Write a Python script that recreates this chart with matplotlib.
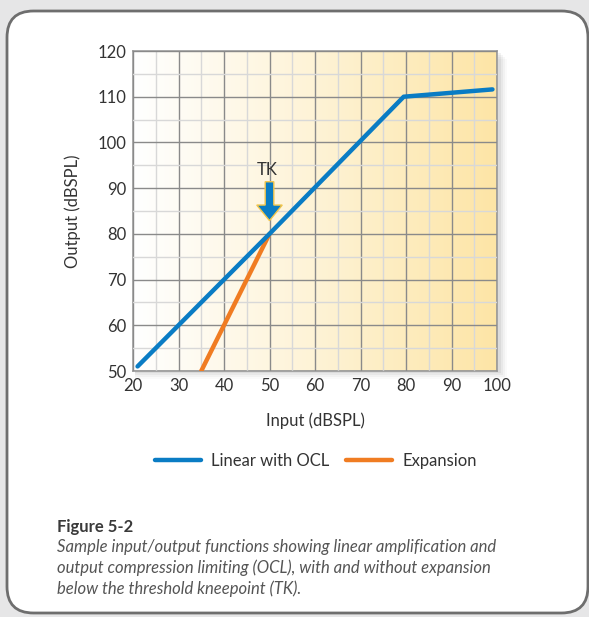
import numpy as np
import matplotlib
matplotlib.use('Agg')
import matplotlib.pyplot as plt
from matplotlib.colors import LinearSegmentedColormap
from matplotlib.patches import FancyBboxPatch, FancyArrow, Rectangle
from matplotlib.lines import Line2D

plt.rcParams['font.family'] = ['Lato', 'DejaVu Sans']

# Input/output functions (dB SPL)
linear_in = [21, 50, 79.5, 99]
linear_out = [51, 80, 110, 111.6]
expansion_in = [35, 50]
expansion_out = [50, 80]
tk_in, tk_out = 50, 80

x_ticks = [20, 30, 40, 50, 60, 70, 80, 90, 100]
y_ticks = [50, 60, 70, 80, 90, 100, 110, 120]

blue = '#0a7cc4'
orange = '#f07c22'
text_col = '#333333'
fs = 12

fig = plt.figure(figsize=(5.89, 6.17), dpi=100)
fig.patch.set_facecolor('#e6e6e7')

# rounded white panel behind everything
panel = FancyBboxPatch((7 / 589, 4 / 617), 581 / 589, 602 / 617,
                       boxstyle='round,pad=0,rounding_size=0.045',
                       transform=fig.transFigure, facecolor='white',
                       edgecolor='#6e6e6e', linewidth=2, zorder=0,
                       mutation_aspect=589 / 617)
fig.patches.append(panel)

ax_rect = [133 / 589, 1 - 371 / 617, 364 / 589, 320 / 617]

# soft drop shadow on the plot area
for i, a in enumerate([0.05, 0.04, 0.03, 0.02]):
    off = (2 + 2 * i)
    fig.patches.append(Rectangle((ax_rect[0] + 2 / 589, ax_rect[1] - off / 617),
                                 ax_rect[2] + off / 589, ax_rect[3],
                                 transform=fig.transFigure, facecolor='black',
                                 edgecolor='none', alpha=a, zorder=1))

ax = fig.add_axes(ax_rect)
ax.set_zorder(2)

# white-to-yellow gradient fill
cmap = LinearSegmentedColormap.from_list('warm', ['#ffffff', '#fef3d6', '#fde5a6'])
grad = np.linspace(0, 1, 256).reshape(1, -1)
ax.imshow(grad, extent=[20, 100, 50, 120], aspect='auto', cmap=cmap, zorder=0)

ax.set_xlim(20, 100)
ax.set_ylim(50, 120)
ax.set_xticks(x_ticks)
ax.set_yticks(y_ticks)
ax.set_xticks(np.arange(25, 100, 10), minor=True)
ax.set_yticks(np.arange(55, 120, 10), minor=True)
ax.grid(which='major', color='#8a8a8a', linewidth=1.0, zorder=1)
ax.grid(which='minor', color='#d8d8d8', linewidth=1.0, zorder=1)
ax.set_axisbelow(False)
ax.tick_params(which='both', length=0, labelsize=fs, labelcolor=text_col, pad=5)
for s in ax.spines.values():
    s.set_color('#9a9a9a')
    s.set_linewidth(1.2)

ax.plot(linear_in, linear_out, color=blue, lw=3.2, solid_capstyle='round', zorder=4)
ax.plot(expansion_in, expansion_out, color=orange, lw=3.2, solid_capstyle='round', zorder=3)

# threshold kneepoint arrow
ax.add_patch(FancyArrow(tk_in, tk_out + 11.4, 0, -8.5, width=1.9, head_width=5.6,
                        head_length=3.4, length_includes_head=True,
                        facecolor=blue, edgecolor='#f3c54a', linewidth=1.0, zorder=5))
ax.text(tk_in - 0.6, tk_out + 12.3, 'TK', ha='center', va='bottom',
        fontsize=fs, color=text_col, zorder=5)

ax.set_xlabel('Input (dBSPL)', fontsize=fs, color=text_col, labelpad=13)
ax.set_ylabel('Output (dBSPL)', fontsize=fs, color=text_col, labelpad=12)

handles = [Line2D([], [], color=blue, lw=3.2, solid_capstyle='round'),
           Line2D([], [], color=orange, lw=3.2, solid_capstyle='round')]
fig.legend(handles, ['Linear with OCL', 'Expansion'], loc='center',
           bbox_to_anchor=(316 / 589, 1 - 461 / 617), ncol=2, frameon=False,
           fontsize=fs, handlelength=2.75, columnspacing=1.0, handletextpad=0.6,
           labelcolor=text_col)

fig.text(57 / 589, 1 - 527 / 617, 'Figure 5-2', fontsize=fs, fontweight='bold',
         color='#3a3a3a', va='center')
caption = ('Sample input/output functions showing linear amplification and\n'
           'output compression limiting (OCL), with and without expansion\n'
           'below the threshold kneepoint (TK).')
fig.text(57 / 589, 1 - 539 / 617, caption, fontsize=fs, fontstyle='italic',
         color='#555555', va='top', linespacing=1.32)

fig.savefig('out.png', dpi=100, facecolor=fig.get_facecolor())
